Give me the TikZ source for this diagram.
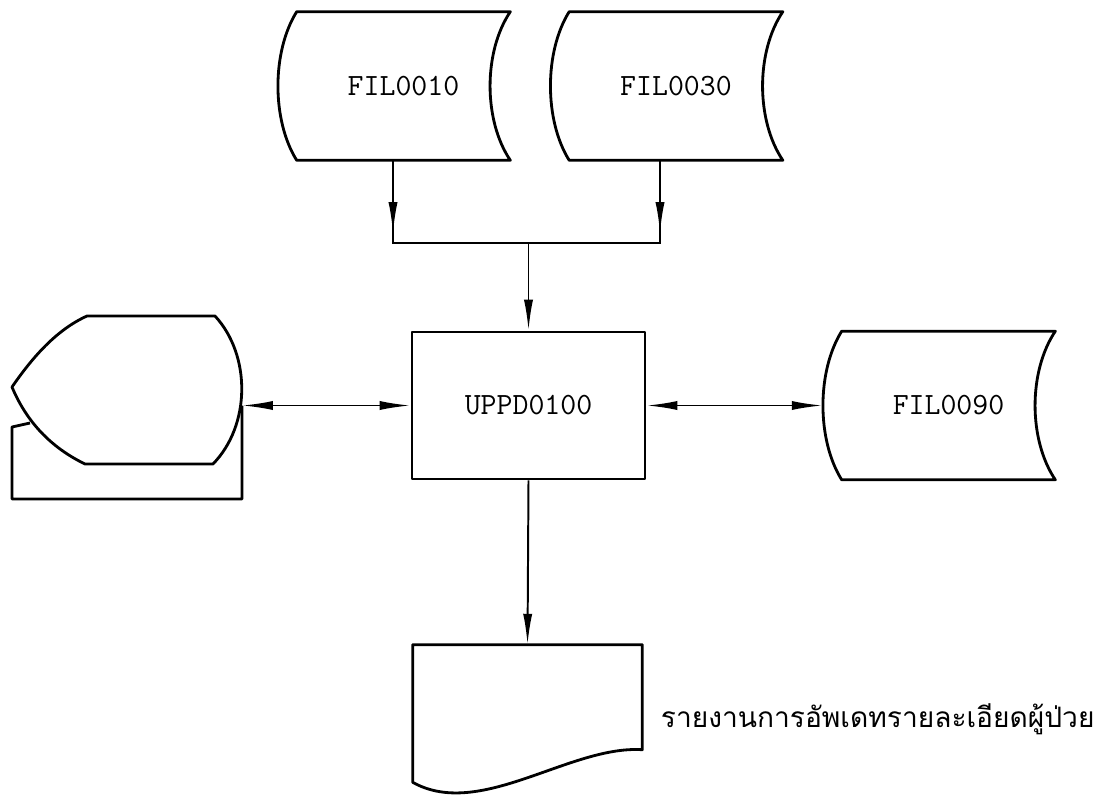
\documentclass[tikz,border=0pt]{standalone}
\usepackage{fontspec}
\newfontfamily\thaifont[Script=Thai]{Loma}
\usetikzlibrary{arrows.meta,positioning,calc}

\begin{document}
\begin{tikzpicture}[x=0.025cm,y=-0.025cm,
  outline/.style={line width=2pt,line join=round},
  conn/.style={line width=1.4pt},
  flow/.style={conn,-{Latex[length=22pt,width=6.5pt]}},
  biflow/.style={conn,{Latex[length=22pt,width=6.5pt]}-{Latex[length=22pt,width=6.5pt]}},
  tt/.style={font=\ttfamily\fontsize{22}{22}\selectfont\addfontfeatures{FakeBold=0.8}},
  filebox/.style={tt,inner sep=0pt,minimum width=5.325cm,minimum height=3.7cm}]
\useasboundingbox (0,0) rectangle (1110,795);

% stored data
\node[filebox] (fil0010) at (403.5,86) {FIL0010};
\node[filebox] (fil0030) at (676,86) {FIL0030};
\node[filebox] (fil0090) at (948.5,405.5) {FIL0090};
\foreach \f in {fil0010,fil0030,fil0090} {
 \draw[outline] (\f.north east) -- (\f.north west)
   .. controls +(-25,40) and +(-25,-40) .. (\f.south west)
   -- (\f.south east)
   .. controls +(-27,-40) and +(-27,40) .. (\f.north east) -- cycle;
}

% process
\node[tt,draw,outline,inner sep=0pt,minimum width=5.825cm,minimum height=3.675cm] (uppd0100) at (528.5,405.5) {UPPD0100};

% terminal
\coordinate (display) at (242,405.5);
\draw[outline] (30,423) -- (12,427) -- (12,499) -- (242,499) -- (display);
\draw[outline,fill=white] (12,387) .. controls (32,358) and (56,330) .. (87,316)
  -- (215,316) .. controls (251,355) and (251,425) .. (213,464)
  -- (85,464) .. controls (51,447.5) and (26.6,421.9) .. cycle;

% report
\node[inner sep=0pt,minimum width=5.725cm,minimum height=3.425cm] (report) at (527.5,713.5) {};
\draw[outline] (report.south west) -- (report.north west) -- (report.north east) -- ++(0,105)
  .. controls (570,745) and (480,820) .. (report.south west) -- cycle;
\node[anchor=base west,font=\thaifont\fontsize{20}{20}\selectfont] (reportlabel) at (656,727) {รายงานการอัพเดทรายละเอียดผู้ป่วย};

% connectors
\coordinate (j10) at (393,243);
\coordinate (j30) at (660,243);
\draw[conn] (j10 |- fil0010.south) -- (j10) -- (j30) -- (j30 |- fil0030.south);
\draw[flow] (j10 |- fil0010.south) -- ($(j10)+(0,-10)$);
\draw[flow] (j30 |- fil0030.south) -- ($(j30)+(0,-10)$);
\draw[flow] (uppd0100.north |- j10) -- (uppd0100.north);
\draw[biflow] (display) -- (uppd0100.west);
\draw[biflow] (uppd0100.east) -- ($(fil0090.west)+(-19,0)$);
\draw[flow] (uppd0100.south) -- (report.north);
\end{tikzpicture}
\end{document}
